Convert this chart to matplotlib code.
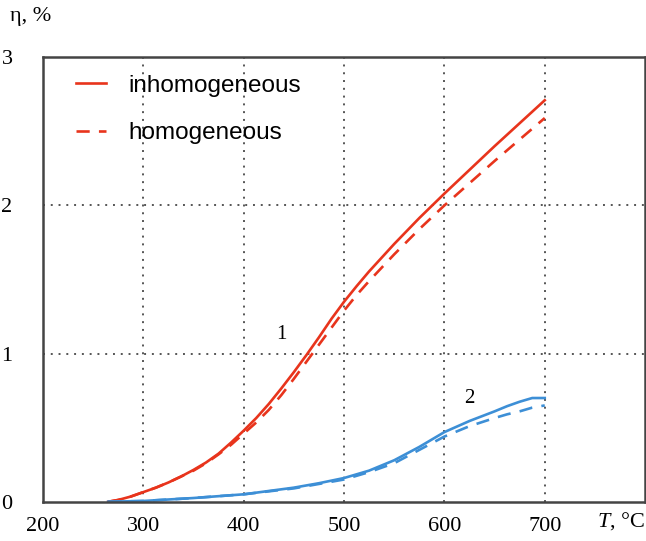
import numpy as np
import matplotlib
matplotlib.use("Agg")
import matplotlib.pyplot as plt

# curve 1 (red) and curve 2 (blue)
t1 = [265, 275, 287.5, 300, 312.5, 325, 337.5, 350, 362.5, 375, 387.5, 400, 412.5, 425, 437.5,
      450, 462.5, 475, 487.5, 500, 512.5, 525, 550, 575, 600, 625, 650, 675, 700]
eta1_inhom = [0, 0.012, 0.035, 0.065, 0.095, 0.13, 0.17, 0.215, 0.265, 0.325, 0.40, 0.48, 0.565, 0.66, 0.765,
              0.875, 0.99, 1.11, 1.235, 1.35, 1.455, 1.555, 1.74, 1.915, 2.08, 2.24, 2.40, 2.555, 2.71]
eta1_hom = [0, 0.012, 0.035, 0.065, 0.095, 0.13, 0.17, 0.21, 0.26, 0.32, 0.385, 0.46, 0.535, 0.62, 0.72,
            0.83, 0.945, 1.06, 1.175, 1.29, 1.395, 1.49, 1.67, 1.84, 2.00, 2.15, 2.30, 2.445, 2.59]

t2 = [265, 300, 350, 400, 450, 475, 500, 525, 550, 575, 600, 625, 650, 662.5, 675, 687.5, 700]
eta2_inhom = [0, 0.005, 0.025, 0.05, 0.095, 0.125, 0.16, 0.21, 0.28, 0.37, 0.47, 0.545, 0.61, 0.645, 0.675, 0.70, 0.70]
eta2_hom = [0, 0.005, 0.025, 0.05, 0.09, 0.12, 0.15, 0.20, 0.26, 0.35, 0.44, 0.51, 0.565, 0.59, 0.61, 0.635, 0.65]

x_ticks = [200, 300, 400, 500, 600, 700]
y_ticks = [0, 1, 2, 3]

red = "#e8341c"
blue = "#3d8fd6"
serif = ["Liberation Serif", "DejaVu Serif"]

plt.rcParams["mathtext.fontset"] = "custom"
plt.rcParams["mathtext.rm"] = "Liberation Serif"
plt.rcParams["mathtext.it"] = "Liberation Serif:italic"

fig = plt.figure(figsize=(6.46, 5.41), dpi=100)
ax = fig.add_axes([0.0666, 0.0726, 0.932, 0.8215])

ax.plot(t1, eta1_inhom, color=red, lw=1.9, label="inhomogeneous")
ax.plot(t1, eta1_hom, color=red, lw=1.9, ls=(0, (5, 3.5)), label="homogeneous")
ax.plot(t2, eta2_inhom, color=blue, lw=1.9)
ax.plot(t2, eta2_hom, color=blue, lw=1.9, ls=(0, (5, 3.5)))

ax.set_xlim(200, 800)
ax.set_ylim(0, 3)
ax.set_xticks(x_ticks)
ax.set_yticks(y_ticks)
ax.tick_params(length=0, labelsize=16)
ax.tick_params(axis="x", pad=11)
ax.tick_params(axis="y", pad=22)
for lab in ax.get_xticklabels() + ax.get_yticklabels():
    lab.set_family(serif)

for x in x_ticks[1:]:
    ax.axvline(x, color="#555555", ls=(0, (1, 3)), lw=1.4, zorder=0)
for y in [1, 2]:
    ax.axhline(y, color="#555555", ls=(0, (1, 3)), lw=1.4, zorder=0)

for s in ax.spines.values():
    s.set_color("#444444")
    s.set_linewidth(1.8)

leg = ax.legend(loc="upper left", bbox_to_anchor=(0.018, 1.01), frameon=False,
                handlelength=1.25, handletextpad=0.9, labelspacing=1.04,
                prop={"family": "Liberation Sans", "size": 17.5})

ax.text(438, 1.13, "1", fontsize=15, family=serif, ha="center", va="center")
ax.text(625, 0.70, "2", fontsize=15, family=serif, ha="center", va="center")

fig.text(10 / 646, 1 - 17 / 541, "η, %", fontsize=16, family=serif, ha="left", va="center")
fig.text(645 / 646, 1 - 521 / 541, "$T$, °C", fontsize=16, family=serif,
         ha="right", va="center")

fig.savefig("out.png", dpi=100)
